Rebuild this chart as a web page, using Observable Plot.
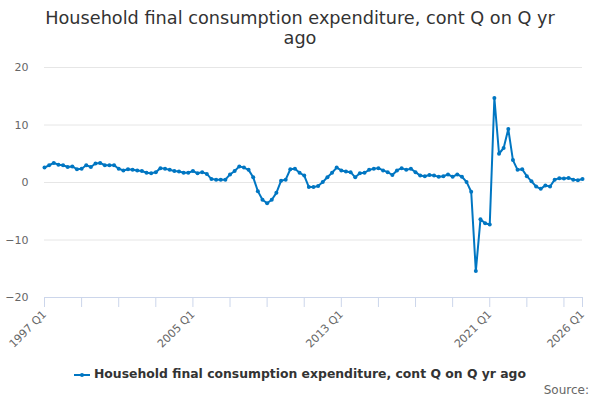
<!DOCTYPE html>
<html>
<head>
<meta charset="utf-8">
<script src="https://cdn.jsdelivr.net/npm/d3@7"></script>
<script src="https://cdn.jsdelivr.net/npm/@observablehq/plot@0.6"></script>
<style>
  body { margin: 0; background: #fff; font-family: "DejaVu Sans", sans-serif; }
  #wrap { position: relative; width: 600px; height: 400px; overflow: hidden; }
  #title { position: absolute; left: 0; top: 8px; width: 600px; text-align: center; font-size: 17.7px; line-height: 20px; color: #333; }
  #chart { position: absolute; left: 0; top: 52px; }
  #legend { position: absolute; left: 0; top: 366px; width: 600px; text-align: center; font-size: 12.4px; font-weight: bold; color: #333; }
  #legend svg { vertical-align: middle; margin-right: 4px; }
  #source { position: absolute; right: 11px; top: 383px; font-size: 12px; color: #666; }
</style>
</head>
<body>
<div id="wrap">
  <div id="title">Household final consumption expenditure, cont Q on Q yr<br>ago</div>
  <div id="chart"></div>
  <div id="legend"></div>
  <div id="source">Source:</div>
</div>
<script>
const seriesName = "Household final consumption expenditure, cont Q on Q yr ago";
const years = d3.range(1997, 2027);
const quarterNames = ["Q1", "Q2", "Q3", "Q4"];
const categories = years.flatMap(y => quarterNames.map(q => `${y} ${q}`)).slice(0, 117);
const values = [
  2.6, 3.0, 3.4, 3.1,   // 1997
  3.0, 2.7, 2.8, 2.3,   // 1998
  2.4, 3.0, 2.7, 3.3,   // 1999
  3.4, 3.0, 3.0, 3.0,   // 2000
  2.4, 2.1, 2.3, 2.2,   // 2001
  2.1, 2.0, 1.7, 1.6,   // 2002
  1.8, 2.5, 2.4, 2.2,   // 2003
  2.0, 1.9, 1.7, 1.7,   // 2004
  2.0, 1.6, 1.8, 1.5,   // 2005
  0.6, 0.5, 0.5, 0.5,   // 2006
  1.4, 2.0, 2.8, 2.6,   // 2007
  2.2, 0.9, -1.5, -3.0, // 2008
  -3.6, -3.0, -1.8, 0.3,// 2009
  0.5, 2.3, 2.4, 1.7,   // 2010
  1.2, -0.8, -0.8, -0.6,// 2011
  0.1, 0.9, 1.7, 2.6,   // 2012
  2.1, 1.9, 1.8, 0.9,   // 2013
  1.6, 1.7, 2.2, 2.4,   // 2014
  2.5, 2.1, 1.8, 1.3,   // 2015
  2.1, 2.5, 2.2, 2.4,   // 2016
  1.8, 1.2, 1.1, 1.3,   // 2017
  1.2, 1.0, 1.1, 1.4,   // 2018
  1.0, 1.4, 1.0, 0.1,   // 2019
  -1.6, -15.4, -6.4, -7.1, // 2020
  -7.3, 14.7, 5.0, 6.0, // 2021
  9.3, 3.9, 2.2, 2.3,   // 2022
  1.1, 0.2, -0.7, -1.1, // 2023
  -0.5, -0.7, 0.5, 0.75,// 2024
  0.7, 0.8, 0.5, 0.4,   // 2025
  0.6                   // 2026
];
const yTicks = [-20, -10, 0, 10, 20];
const tickLabels = ["1997 Q1", "2005 Q1", "2013 Q1", "2021 Q1", "2026 Q1"];

const data = categories.map((c, i) => ({i, label: c, value: values[i]}));
const tickIdx = d3.range(0, 116, 8).concat([116]);
const color = "#0076c2";

const plot = Plot.plot({
  width: 600,
  height: 305,
  marginTop: 15,
  marginBottom: 60,
  marginLeft: 44,
  marginRight: 18,
  style: {fontFamily: "DejaVu Sans, sans-serif", fontSize: "11px", color: "#666", background: "transparent"},
  x: {domain: [0, 116]},
  y: {domain: [-20, 20]},
  marks: [
    Plot.gridY(yTicks.filter(t => t !== -20), {stroke: "#e6e6e6", strokeOpacity: 1}),
    Plot.ruleY([-20], {stroke: "#ccd6eb"}),
    Plot.axisY(yTicks, {tickSize: 0, tickPadding: 16, label: null, fill: "#666", fontSize: 11}),
    Plot.axisX(tickIdx, {
      tickSize: 10, stroke: "#ccd6eb", tickPadding: 5, tickRotate: -45, label: null,
      tickFormat: i => { const l = categories[i]; return tickLabels.includes(l) ? l : ""; },
      fill: "#666", fontSize: 11
    }),
    Plot.line(data, {x: "i", y: "value", stroke: color, strokeWidth: 2}),
    Plot.dot(data, {x: "i", y: "value", r: 2, fill: color, stroke: "none"})
  ]
});
document.getElementById("chart").appendChild(plot);

const leg = document.getElementById("legend");
leg.innerHTML = `<svg width="16" height="12"><line x1="0" y1="6" x2="16" y2="6" stroke="${color}" stroke-width="2"/><circle cx="8" cy="6" r="2" fill="${color}"/></svg>`;
leg.appendChild(document.createTextNode(seriesName));
</script>
</body>
</html>
